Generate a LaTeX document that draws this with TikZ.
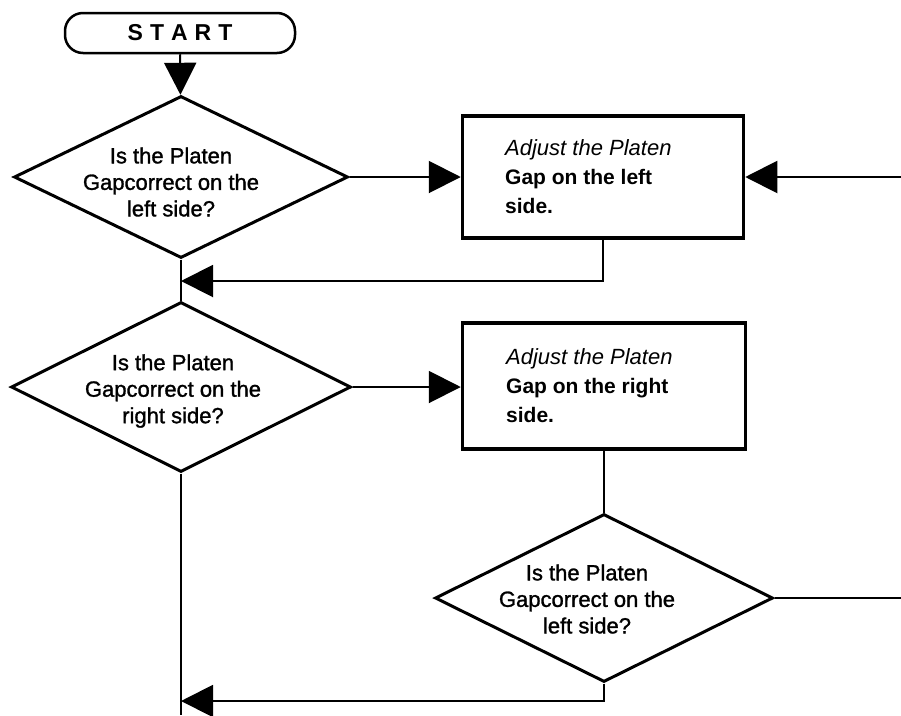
\documentclass[tikz,border=0pt]{standalone}
\usepackage{fontspec}
\setmainfont{Liberation Sans}
\newfontfamily\dfont{Liberation Sans}[FakeBold=1.3]
\usetikzlibrary{arrows.meta,shapes.geometric}
\begin{document}
\begin{tikzpicture}[x=1pt,y=-1pt,
  term/.style={draw, line width=2.5pt, rectangle, rounded corners=18pt, minimum width=230pt, minimum height=40pt, inner sep=0pt, font=\fontsize{23}{23}\selectfont\bfseries},
  dia/.style={draw, line width=3pt, diamond, inner sep=0pt},
  proc/.style={draw, line width=3.5pt, rectangle, inner sep=0pt},
  dtext/.style={inner sep=0pt, align=center, font=\dfont\fontsize{22}{26.5}\selectfont},
  btext/.style={inner sep=0pt, align=left, font=\fontsize{21}{29}\selectfont},
  conn/.style={line width=2pt},
  tip/.tip={Triangle[length=32pt,width=32pt]}]
\useasboundingbox (0,0) rectangle (901,715);
\fill[white] (0,0) rectangle (901,715);

% nodes
\node[term] (start) at (180,33) {S\kern7pt T\kern7pt A\kern7pt R\kern7pt T};

\node[dia, minimum width=334pt, minimum height=162pt] (d1) at (181,177) {};
\node[dtext] (t1) at (171,182) {Is the Platen\\Gapcorrect on the\\left side?};

\node[proc, minimum width=281pt, minimum height=122pt] (b1) at (603,177) {};
\node[btext, anchor=west] (bt1) at (505,177) {\fontsize{22}{29}\selectfont\itshape Adjust the Platen\\\bfseries Gap on the left\\\bfseries side.};

\node[dia, minimum width=340pt, minimum height=170pt] (d2) at (181,387) {};
\node[dtext] (t2) at (173,391) {Is the Platen\\Gapcorrect on the\\right side?};

\node[proc, minimum width=283pt, minimum height=126pt] (b2) at (604,386) {};
\node[btext, anchor=west] (bt2) at (506,386) {\fontsize{22}{29}\selectfont\itshape Adjust the Platen\\\bfseries Gap on the right\\\bfseries side.};

\node[dia, minimum width=338pt, minimum height=168pt] (d3) at (604,598) {};
\node[dtext] (t3) at (587,599) {Is the Platen\\Gapcorrect on the\\left side?};

% free ends
\coordinate (e1) at (901,177);
\coordinate (e2) at (901,598);
\coordinate (m1) at (181,281);
\coordinate (m2) at (181,701);
\coordinate (bot) at (181,715);

% connectors
\draw[conn,-tip] (start) -- (d1);
\draw[conn] (d1) -- (d2);
\draw[conn,-tip] (d1) -- (b1);
\draw[conn,-tip] (e1) -- (b1);
\draw[conn,-tip] (b1.south) |- (m1);
\draw[conn,-tip] (d2.east) -- (d2.east -| b2.west);
\draw[conn] (b2) -- (d3);
\draw[conn] (d3.east) -- (e2);
\draw[conn,-tip] (d3.south) |- (m2);
\draw[conn] (d2.south) -- (bot);
\end{tikzpicture}
\end{document}
